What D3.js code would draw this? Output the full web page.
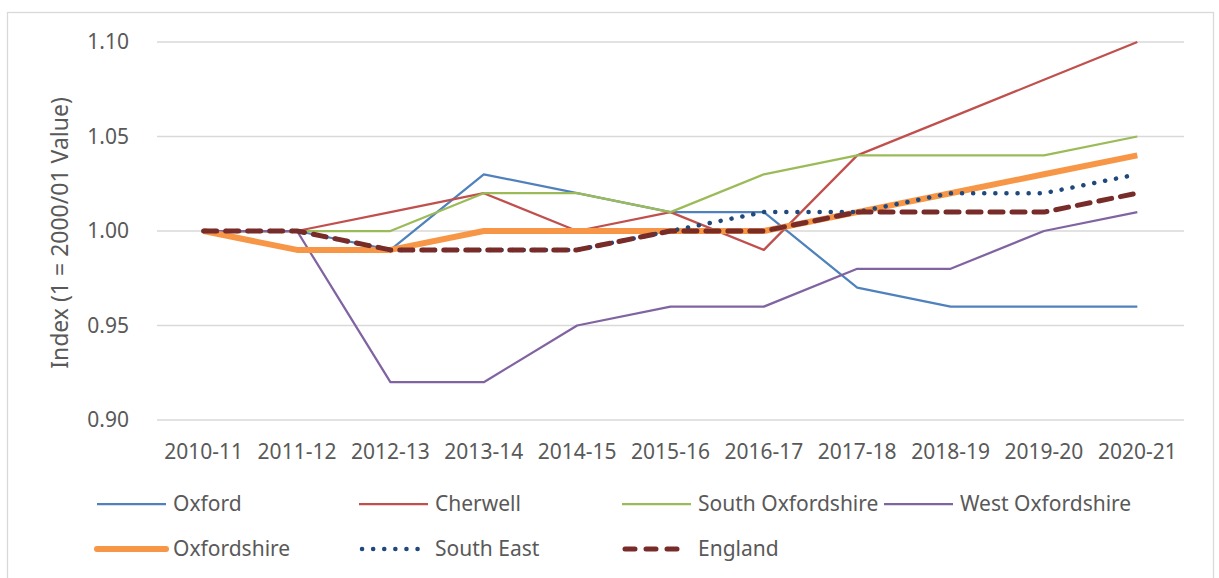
<!DOCTYPE html>
<html>
    <head>
        <meta charset="utf-8">
        <title>Index chart</title>
        <script src="https://d3js.org/d3.v7.min.js"></script>
        <style>
            body { margin: 0; background: #fff; }
            svg text { font-family: "Noto Sans", "Liberation Sans", sans-serif; fill: #595959; }
        </style>
    </head>
    <body>
        <svg id="chart"></svg>
        <script>
            const years = ["2010-11", "2011-12", "2012-13", "2013-14", "2014-15", "2015-16",
                           "2016-17", "2017-18", "2018-19", "2019-20", "2020-21"];
            const oxford       = [1.00, 1.00, 0.99, 1.03, 1.02, 1.01, 1.01, 0.97, 0.96, 0.96, 0.96];
            const cherwell     = [1.00, 1.00, 1.01, 1.02, 1.00, 1.01, 0.99, 1.04, 1.06, 1.08, 1.10];
            const southOxon    = [1.00, 1.00, 1.00, 1.02, 1.02, 1.01, 1.03, 1.04, 1.04, 1.04, 1.05];
            const westOxon     = [1.00, 1.00, 0.92, 0.92, 0.95, 0.96, 0.96, 0.98, 0.98, 1.00, 1.01];
            const oxfordshire  = [1.00, 0.99, 0.99, 1.00, 1.00, 1.00, 1.00, 1.01, 1.02, 1.03, 1.04];
            const southEast    = [1.00, 1.00, 0.99, 0.99, 0.99, 1.00, 1.01, 1.01, 1.02, 1.02, 1.03];
            const england      = [1.00, 1.00, 0.99, 0.99, 0.99, 1.00, 1.00, 1.01, 1.01, 1.01, 1.02];
            const yTicks = [0.90, 0.95, 1.00, 1.05, 1.10];

            const series = [
                { name: "Oxford", values: oxford, color: "#4F81BD", width: 2.25, dash: null },
                { name: "Cherwell", values: cherwell, color: "#C0504D", width: 2.25, dash: null },
                { name: "South Oxfordshire", values: southOxon, color: "#9BBB59", width: 2.25, dash: null },
                { name: "West Oxfordshire", values: westOxon, color: "#8064A2", width: 2.25, dash: null },
                { name: "Oxfordshire", values: oxfordshire, color: "#F79646", width: 6, dash: null },
                { name: "South East", values: southEast, color: "#1F497D", width: 4.5, dash: "0.1 11" },
                { name: "England", values: england, color: "#772C2A", width: 5, dash: "13 9" }
            ];

            const width = 1219, height = 578;
            const svg = d3.select("#chart").attr("width", width).attr("height", height);

            // chart frame
            svg.append("rect")
                .attr("x", 7.5).attr("y", 12.5)
                .attr("width", 1206).attr("height", 600)
                .attr("fill", "none").attr("stroke", "#d9d9d9").attr("stroke-width", 1.3);

            const plot = { left: 157, right: 1184, top: 42, bottom: 420 };

            const x = d3.scaleBand().domain(years).range([plot.left, plot.right]);
            const y = d3.scaleLinear().domain([0.90, 1.10]).range([plot.bottom, plot.top]);

            // gridlines
            svg.append("g").selectAll("line")
                .data(yTicks)
                .join("line")
                .attr("x1", plot.left).attr("x2", plot.right)
                .attr("y1", d => y(d)).attr("y2", d => y(d))
                .attr("stroke", "#d9d9d9").attr("stroke-width", 1.3);

            // y tick labels
            svg.append("g").selectAll("text")
                .data(yTicks)
                .join("text")
                .attr("x", 129).attr("y", d => y(d))
                .attr("dy", "0.35em")
                .attr("text-anchor", "end")
                .style("font-size", "21px")
                .text(d => d3.format(".2f")(d));

            // x tick labels
            svg.append("g").selectAll("text")
                .data(years)
                .join("text")
                .attr("x", d => x(d) + x.bandwidth() / 2)
                .attr("y", 452)
                .attr("dy", "0.35em")
                .attr("text-anchor", "middle")
                .style("font-size", "21px")
                .text(d => d);

            // y axis title
            svg.append("text")
                .attr("transform", `translate(60, ${(plot.top + plot.bottom) / 2 + 2}) rotate(-90)`)
                .attr("text-anchor", "middle")
                .attr("dy", "0.35em")
                .style("font-size", "23px")
                .text("Index (1 = 2000/01 Value)");

            const line = d3.line()
                .x((d, i) => x(years[i]) + x.bandwidth() / 2)
                .y(d => y(d));

            svg.append("g").selectAll("path")
                .data(series)
                .join("path")
                .attr("d", d => line(d.values))
                .attr("fill", "none")
                .attr("stroke", d => d.color)
                .attr("stroke-width", d => d.width)
                .attr("stroke-dasharray", d => d.dash)
                .attr("stroke-linecap", d => d.dash ? "round" : "butt")
                .attr("stroke-linejoin", "round");

            // legend
            const legendCols = [97, 359, 622, 884];
            const legendRows = [504, 549];
            const legend = svg.append("g").selectAll("g")
                .data(series)
                .join("g")
                .attr("transform", (d, i) => `translate(${legendCols[i % 4]}, ${legendRows[Math.floor(i / 4)]})`);

            legend.append("line")
                .attr("x1", d => d.dash ? 3 : 0).attr("x2", d => d.dash ? 66 : 69)
                .attr("y1", 0).attr("y2", 0)
                .attr("stroke", d => d.color)
                .attr("stroke-width", d => d.width)
                .attr("stroke-dasharray", d => d.name === "England" ? "10 11" : d.dash)
                .attr("stroke-linecap", d => d.dash || d.name === "Oxfordshire" ? "round" : "butt");

            legend.append("text")
                .attr("x", 76).attr("y", 0)
                .attr("dy", "0.35em")
                .style("font-size", "21px")
                .text(d => d.name);
        </script>
    </body>
</html>
